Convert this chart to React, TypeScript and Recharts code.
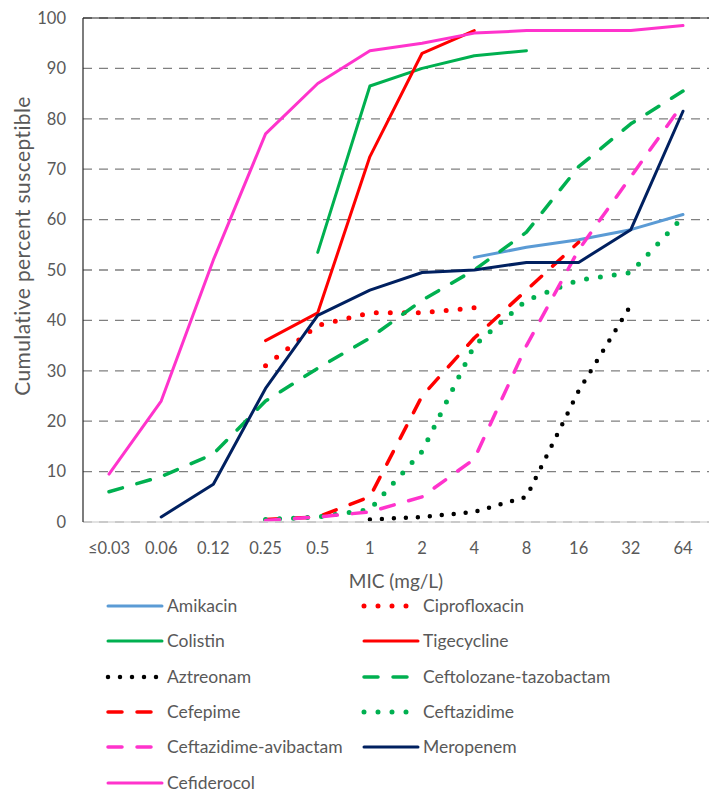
import { LineChart, Line, XAxis, YAxis, CartesianGrid, ReferenceLine } from "recharts"

const micLabels = ["≤0.03", "0.06", "0.12", "0.25", "0.5", "1", "2", "4", "8", "16", "32", "64"]

const amikacin = [null, null, null, null, null, null, null, 52.5, 54.5, 56, 58, 61]
const ciprofloxacin = [null, null, null, 31, 39, 41.5, 41.5, 42.5, null, null, null, null]
const colistin = [null, null, null, null, 53.5, 86.5, 90, 92.5, 93.5, null, null, null]
const tigecycline = [null, null, null, 36, 41.5, 72.5, 93, 97.5, null, null, null, null]
const aztreonam = [null, null, null, null, null, 0.5, 1, 2, 5, 26, 43, null]
const ceftolozane = [6, 9, 13.5, 24, 30.5, 36.5, 44, 50, 57.5, 70.5, 79, 85.5]
const cefepime = [null, null, null, 0.5, 1, 5, 25, 36.5, 46, 55.5, null, null]
const ceftazidime = [null, null, null, 0.5, 1, 2.5, 14, 35, 44, 48, 49.5, 60.5]
const ceftazAvi = [null, null, null, 0.3, 1, 2, 5, 12.5, 35, 54, 68.5, 83]
const meropenem = [null, 1, 7.5, 26.5, 41, 46, 49.5, 50, 51.5, 51.5, 58, 81.5]
const cefiderocol = [9.5, 24, 52, 77, 87, 93.5, 95, 97, 97.5, 97.5, 97.5, 98.5]

const yTicks = [0, 10, 20, 30, 40, 50, 60, 70, 80, 90, 100]

const font = "Lato, 'Open Sans', sans-serif"
const textGray = "#595959"
const DASH = "14 15"
const DOT = "0 14"
const SMALL_DOT = "0 12"

const series = [
  { key: "amikacin", name: "Amikacin", values: amikacin, color: "#5B9BD5", width: 3, dash: undefined },
  { key: "ciprofloxacin", name: "Ciprofloxacin", values: ciprofloxacin, color: "#FF0000", width: 5, dash: DOT },
  { key: "colistin", name: "Colistin", values: colistin, color: "#00B050", width: 3, dash: undefined },
  { key: "tigecycline", name: "Tigecycline", values: tigecycline, color: "#FF0000", width: 3, dash: undefined },
  { key: "aztreonam", name: "Aztreonam", values: aztreonam, color: "#000000", width: 4.5, dash: SMALL_DOT },
  { key: "ceftolozane", name: "Ceftolozane-tazobactam", values: ceftolozane, color: "#00B050", width: 3.5, dash: DASH },
  { key: "cefepime", name: "Cefepime", values: cefepime, color: "#FF0000", width: 3.5, dash: DASH },
  { key: "ceftazidime", name: "Ceftazidime", values: ceftazidime, color: "#00B050", width: 5, dash: DOT },
  { key: "ceftazAvi", name: "Ceftazidime-avibactam", values: ceftazAvi, color: "#FF33CC", width: 3.5, dash: DASH },
  { key: "meropenem", name: "Meropenem", values: meropenem, color: "#002060", width: 3, dash: undefined },
  { key: "cefiderocol", name: "Cefiderocol", values: cefiderocol, color: "#FF33CC", width: 3, dash: undefined },
]

const data = micLabels.map((mic, i) => {
  const row: Record<string, any> = { mic }
  series.forEach((s) => (row[s.key] = s.values[i]))
  return row
})

const tickStyle = { fontSize: 16.5, fill: textGray, fontFamily: font }

function YTitle({ viewBox }: any) {
  const x = 21
  const y = viewBox.y + viewBox.height / 2 - 24
  return (
    <text x={x} y={y} transform={`rotate(-90 ${x} ${y})`} textAnchor="middle" dominantBaseline="central"
      fontSize={21} letterSpacing={0.4} fill={textGray} fontFamily={font}>
      Cumulative percent susceptible
    </text>
  )
}

function LegendSample({ s }: { s: (typeof series)[number] }) {
  return (
    <svg width={60} height={12} style={{ display: "block" }}>
      <line x1={3} y1={6} x2={57} y2={6} stroke={s.color} strokeWidth={s.width}
        strokeDasharray={s.dash} strokeLinecap="round" />
    </svg>
  )
}

function ChartLegend() {
  return (
    <div style={{ position: "absolute", left: 0, top: 595, width: 709 }}>
      {series.map((s, i) => {
        const col = i % 2
        const row = Math.floor(i / 2)
        return (
          <div key={s.key} style={{
            position: "absolute", left: col === 0 ? 105 : 361, top: row * 35.3, height: 22, lineHeight: "22px",
            display: "flex", alignItems: "center", fontSize: 17.5, color: textGray, fontFamily: font,
          }}>
            <LegendSample s={s} />
            <span style={{ marginLeft: 2 }}>{s.name}</span>
          </div>
        )
      })}
    </div>
  )
}

export default function App() {
  return (
    <div style={{ position: "absolute", left: 0, top: 0, width: 709, height: 792, background: "#fff", fontFamily: font, overflow: "hidden" }}>
      <LineChart width={709} height={600} data={data} margin={{ top: 18, right: 0, left: 0, bottom: 0 }}>
        <CartesianGrid vertical={false} stroke="#808080" strokeWidth={1.3} strokeDasharray="9 7" />
        <XAxis dataKey="mic" interval={0} tickLine={false} axisLine={{ stroke: "#d9d9d9", strokeWidth: 1.5 }}
          tick={tickStyle} tickMargin={14} height={78} padding={{ left: 26, right: 26 }}
          label={{ value: "MIC (mg/L)", position: "insideBottom", offset: 12, fontSize: 19, fill: textGray, fontFamily: font }} />
        <YAxis domain={[0, 100]} ticks={yTicks} interval={0} width={83} tickLine={false}
          axisLine={{ stroke: "#262626", strokeWidth: 1.2 }} tick={tickStyle} tickMargin={11}
          label={<YTitle />} />
        <ReferenceLine y={100} stroke="#262626" strokeWidth={1.2} />
        {series.map((s) => (
          <Line key={s.key} type="linear" dataKey={s.key} name={s.name} stroke={s.color} strokeWidth={s.width}
            strokeDasharray={s.dash} strokeLinecap="round" strokeLinejoin="round" dot={false} activeDot={false}
            connectNulls={false} isAnimationActive={false} />
        ))}
      </LineChart>
      <ChartLegend />
    </div>
  )
}
